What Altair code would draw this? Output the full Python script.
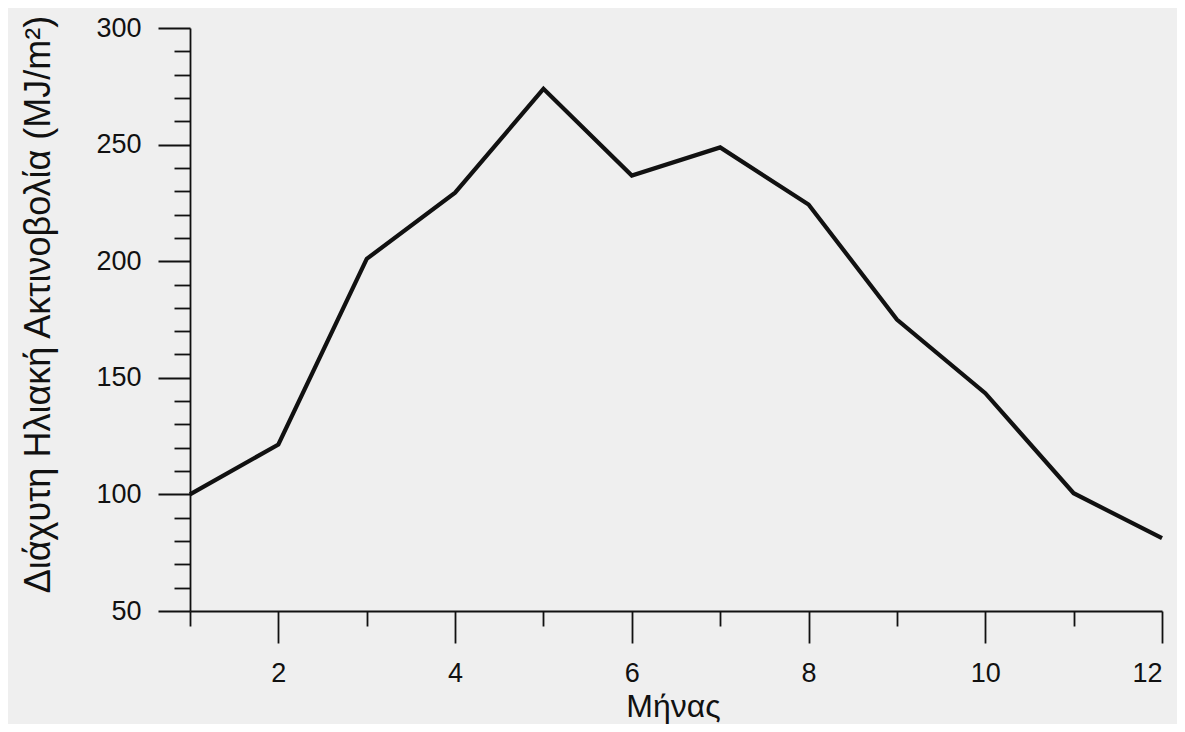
import altair as alt
import pandas as pd

months = list(range(1, 13))
values = [100.0, 121.4, 201.0, 229.4, 273.9, 236.7, 248.8, 224.3, 175.0, 143.4, 100.5, 81.2]

x_major = [2, 4, 6, 8, 10, 12]
x_minor = [1, 3, 5, 7, 9, 11]
y_major = [50, 100, 150, 200, 250, 300]
y_minor = [v for v in range(50, 301, 10) if v % 50 != 0]

df = pd.DataFrame({"month": months, "value": values})

FONT = "Liberation Sans"
INK = "#111111"

xscale = alt.Scale(domain=[1, 12], nice=False, zero=False)
yscale = alt.Scale(domain=[50, 300], nice=False, zero=False)

main = alt.Chart(df).mark_line(color=INK, strokeWidth=4.2, strokeJoin="miter").encode(
    x=alt.X("month:Q", scale=xscale, axis=alt.Axis(
        orient="bottom", values=x_major, tickSize=32, tickWidth=1.8, tickColor=INK,
        domainColor=INK, domainWidth=1.8, labelFontSize=27, labelFont=FONT,
        labelColor=INK, labelPadding=17, grid=False, title="Μήνας",
        titleFont=FONT, titleFontSize=32, titleFontWeight="normal", titleColor=INK,
        titleX=483, titleY=105, titleBaseline="alphabetic", titleAlign="center",
        format="d")),
    y=alt.Y("value:Q", scale=yscale, axis=alt.Axis(
        orient="left", values=y_major, tickSize=32, tickWidth=1.8, tickColor=INK,
        domainColor=INK, domainWidth=1.8, labelFontSize=27, labelFont=FONT,
        labelColor=INK, labelPadding=17, grid=False,
        title="Διάχυτη Ηλιακή Ακτινοβολία (MJ/m²)",
        titleFont=FONT, titleFontSize=36, titleFontWeight="normal", titleColor=INK,
        titleX=-141, titleY=276, titleBaseline="alphabetic", titleAlign="center",
        format="d")),
)

minor = alt.Chart(df).mark_line(opacity=0).encode(
    x=alt.X("month:Q", scale=xscale, axis=alt.Axis(
        orient="bottom", values=x_minor, tickSize=15, tickWidth=1.8, tickColor=INK,
        domain=False, labels=False, grid=False, title=None)),
    y=alt.Y("value:Q", scale=yscale, axis=alt.Axis(
        orient="left", values=y_minor, tickSize=16, tickWidth=1.8, tickColor=INK,
        domain=False, labels=False, grid=False, title=None)),
)

chart = alt.layer(minor, main).resolve_axis(x="independent", y="independent").properties(
    width=972,
    height=583,
    autosize=alt.AutoSizeParams(type="none"),
    padding={"left": 182, "top": 20, "right": 15, "bottom": 113},
    background="#efefef",
).configure_view(stroke=None)

chart.save("out.html", embed_options={"renderer": "svg", "actions": False})
